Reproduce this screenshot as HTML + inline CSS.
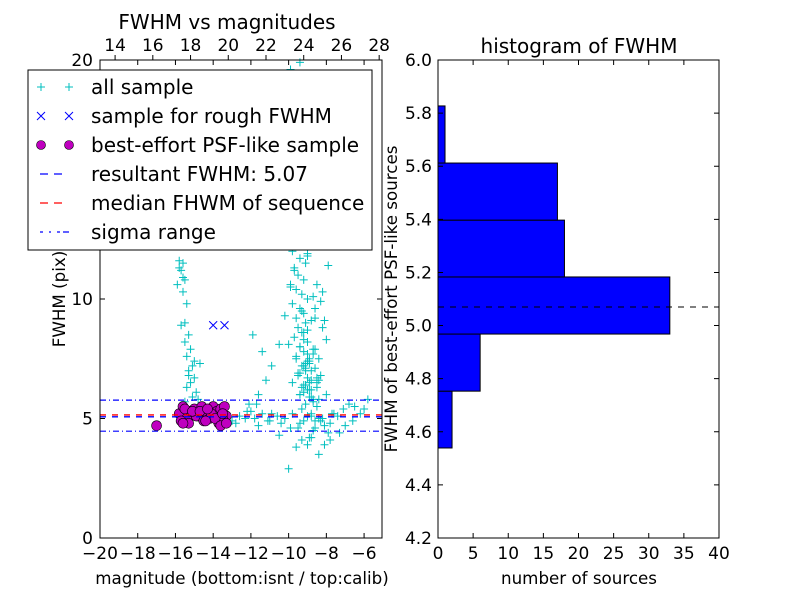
<!DOCTYPE html>
<html><head><meta charset="utf-8"><style>
body{margin:0;background:#fff;}
svg{display:block;font-family:"DejaVu Sans","Liberation Sans",sans-serif;}
</style></head><body>
<svg id="c" width="800" height="600" viewBox="0 0 800 600"></svg>
<script>
const allX=[-15.8,-15.6,-15.7,-15.5,-15.9,-15.6,-15.4,-15.5,-15.7,-15.3,-15.5,-15.2,-15.4,-15.1,-15.3,-15.0,-15.2,-15.4,-14.9,-15.1,-15.5,-14.8,-15.3,-15.0,-14.7,-15.8,-15.6,
-9.9,-9.4,-10.1,-9.2,-10.4,-9.7,-9.0,-10.6,-10.0,-9.5,-9.8,-9.3,-10.2,-9.6,-9.1,-9.9,-9.4,-10.8,-10.3,-9.7,-9.2,-10.0,-9.5,-8.9,-9.6,-9.3,-10.1,-9.8,-9.4,-9.1,-9.7,-9.5,-9.2,-9.9,-9.6,-9.3,-9.0,-9.8,-9.4,-9.2,-9.6,-9.1,-9.5,-9.3,-9.7,-9.0,-9.4,-9.2,-9.6,-8.9,-9.3,-9.1,-9.5,-8.8,-9.2,-9.0,-9.4,-8.7,-9.1,-9.3,-8.9,-8.6,-9.2,-9.0,-8.8,-9.4,-9.1,-8.7,-8.9,-8.5,-9.2,-8.8,-9.0,-8.6,-8.4,-8.9,-8.7,-9.1,-8.5,-8.8,-8.3,-8.6,-9.0,-8.4,-8.7,-9.9,-10.2,-10.5,-10.9,-11.2,-11.6,-12.1,-8.1,-7.8,-7.6,-10.5,-10.0,-11.4,-11.9,
-9.6,-9.4,-9.2,-9.0,-8.8,-8.6,-8.4,-8.2,-9.5,-9.3,-9.1,-8.9,-8.7,-8.5,-8.3,-9.7,-9.0,-8.6,-9.2,-8.8,-9.4,-8.4,-9.1,-8.7,-8.5,-9.3,-8.9,-8.3,-8.0,-7.8,-9.5,-8.1,-9.0,-8.6,-8.2,-7.9,-9.8,-8.8,-8.4,-7.7,
-13.0,-12.6,-12.2,-11.8,-11.4,-11.0,-10.6,-10.2,-9.8,-9.4,-9.0,-8.6,-8.2,-7.8,-7.4,-7.0,-6.6,-6.2,-12.8,-12.3,-11.6,-11.1,-10.4,-9.9,-9.2,-8.7,-8.1,-7.6,-7.1,-6.5,-6.0,-12.0,-10.9,-9.6,-8.4,-7.3,-9.0,-8.8,-10.0,-8.0,-8.5,-9.3,-10.5,-11.7,-6.8,-5.8,-7.9,-9.5,-8.9,-7.7,-7.3,-6.9];
const allY=[11.6,11.5,11.2,10.8,10.6,10.3,9.8,9.0,8.9,8.5,8.2,7.9,7.6,7.2,7.0,6.7,6.5,6.3,6.1,5.9,5.7,5.8,6.8,7.4,7.3,11.3,10.9,
19.6,19.9,18.9,18.5,18.2,17.8,17.5,16.9,16.7,16.4,16.1,15.9,15.6,15.3,15.1,14.8,14.5,14.3,14.0,13.8,13.6,13.3,13.1,12.9,12.6,12.4,12.2,12.0,11.7,11.5,11.3,11.0,10.8,10.6,10.4,10.2,10.0,9.8,9.6,9.4,9.2,9.0,8.8,8.6,8.4,8.2,8.0,7.8,7.6,7.4,7.2,7.0,6.8,6.6,6.4,6.2,6.0,5.8,5.6,5.4,7.5,7.9,8.3,8.7,9.1,6.9,7.3,7.7,6.5,6.3,6.1,5.9,6.7,7.1,7.5,6.2,5.7,6.4,5.5,5.2,4.9,4.6,11.9,15.4,13.2,10.5,9.3,8.1,7.2,6.6,6.0,5.6,3.9,4.1,14.9,12.7,
8.1,7.8,8.5,7.5,8.0,7.2,7.7,7.0,9.2,6.6,8.8,6.9,9.5,6.4,7.3,10.1,10.6,9.9,11.2,11.8,12.3,8.6,6.2,6.0,5.8,7.1,7.9,6.7,6.3,5.9,6.8,8.3,12.8,13.4,9.1,7.4,9.6,10.3,11.4,6.5,
5.1,5.0,5.2,4.9,5.1,5.3,5.0,5.2,4.9,5.1,5.0,5.2,4.8,5.1,4.9,5.0,4.8,5.1,4.7,4.9,5.2,4.8,5.0,4.7,4.9,4.8,4.6,4.9,4.5,4.7,5.2,5.4,5.5,5.4,5.3,5.2,3.8,3.5,4.4,3.9,4.2,2.9,6.0,6.5,4.1,4.3,5.6,5.6,5.8,4.4,4.6,4.2];
const roughX=[-14.0,-13.4];
const roughY=[8.9,8.9];
const psfX=[-17.0,-15.8,-15.6,-15.4,-15.2,-15.0,-14.8,-14.6,-14.4,-14.2,-14.0,-13.8,-13.6,-13.4,-13.3,-15.7,-15.3,-14.9,-14.5,-14.1,-13.7,-13.5,-15.5,-15.1,-14.7,-14.3,-13.9,-13.5,-15.6,-14.4,-13.6,-13.3];
const psfY=[4.7,5.2,5.5,5.0,5.3,5.4,5.1,5.5,5.2,5.0,5.5,5.3,5.4,5.5,5.1,4.9,4.8,5.1,4.9,5.2,4.8,5.0,5.4,5.3,5.3,5.4,5.0,5.2,4.8,4.9,4.7,4.8];
const binEdges=[4.539,4.753,4.968,5.183,5.397,5.612,5.827];
const counts=[2,6,33,18,17,1];
const lxTicks=[-20,-18,-16,-14,-12,-10,-8,-6];
const lyTicks=[0,5,10,20];
const topTicks=[14,16,18,20,22,24,26,28];
const rxTicks=[0,5,10,15,20,25,30,35,40];
const ryTicks=[4.2,4.4,4.6,4.8,5.0,5.2,5.4,5.6,5.8,6.0];
const fwhm=5.07, median=5.15, sigLo=4.47, sigHi=5.77;

const NS="http://www.w3.org/2000/svg", svg=document.getElementById('c');
function el(t,a,p){const e=document.createElementNS(NS,t);for(const k in a)e.setAttribute(k,a[k]);(p||svg).appendChild(e);return e;}
function txt(s,a,p){const e=el('text',a,p);e.textContent=s;return e;}
const L={x0:100,x1:382,y0:60,y1:538}, xmin=-20,xmax=-5.05,ymax=20;
const lx=v=>L.x0+(v-xmin)/(xmax-xmin)*(L.x1-L.x0);
const ly=v=>L.y1-v/ymax*(L.y1-L.y0);
const tx=v=>lx(v-33.2);
const R={x0:438,x1:719,y0:60,y1:538};
const rx=v=>R.x0+v/40*(R.x1-R.x0);
const ry=v=>R.y1-(v-4.2)/1.8*(R.y1-R.y0);

const gl=el('g',{});
allX.forEach((x,i)=>{const X=lx(x),Y=ly(allY[i]);const p=el('path',{d:`M${X-4} ${Y}H${X+4}M${X} ${Y-4}V${Y+4}`,stroke:'#00bfbf','stroke-width':1},gl);
});
roughX.forEach((x,i)=>{const X=lx(x),Y=ly(roughY[i]);const p=el('path',{d:`M${X-4} ${Y-4}L${X+4} ${Y+4}M${X-4} ${Y+4}L${X+4} ${Y-4}`,stroke:'#0000ff','stroke-width':1},gl);
});
psfX.forEach((x,i)=>{const c=el('circle',{cx:lx(x),cy:ly(psfY[i]),r:5,fill:'#bf00bf',stroke:'#000','stroke-width':0.6},gl);
});
let h=el('line',{x1:L.x0,x2:L.x1,y1:ly(fwhm),y2:ly(fwhm),stroke:'#00f','stroke-width':1.3,'stroke-dasharray':'6 6'},gl);

h=el('line',{x1:L.x0,x2:L.x1,y1:ly(median),y2:ly(median),stroke:'#f00','stroke-width':1.3,'stroke-dasharray':'6 6'},gl);

[sigLo,sigHi].forEach(v=>{const s=el('line',{x1:L.x0,x2:L.x1,y1:ly(v),y2:ly(v),stroke:'#00f','stroke-width':1.2,'stroke-dasharray':'6 3 1 3'},gl);
});
el('rect',{x:L.x0,y:L.y0,width:L.x1-L.x0,height:L.y1-L.y0,fill:'none',stroke:'#000'},gl);
lxTicks.forEach(v=>{const X=lx(v);el('path',{d:`M${X} ${L.y1}v-5M${X} ${L.y0}v5`,stroke:'#000'},gl);
const t=txt(v<0?'\u2212'+(-v):v,{x:X,y:L.y1+21,'text-anchor':'middle','font-size':17},gl);});
topTicks.forEach(v=>{const X=tx(v);el('path',{d:`M${X} ${L.y0}v-5`,stroke:'#000'},gl);
const t=txt(v,{x:X,y:L.y0-9,'text-anchor':'middle','font-size':17},gl);});
lyTicks.forEach(v=>{const Y=ly(v);el('path',{d:`M${L.x0} ${Y}h5M${L.x1} ${Y}h-5`,stroke:'#000'},gl);
const t=txt(v,{x:L.x0-7,y:Y+6,'text-anchor':'end','font-size':17},gl);});
let t=txt('FWHM vs magnitudes',{x:227,y:29,'text-anchor':'middle','font-size':20},gl);
t=txt('magnitude (bottom:isnt / top:calib)',{x:242,y:584,'text-anchor':'middle','font-size':16.7},gl);
t=txt('FWHM (pix)',{x:65,y:299,'text-anchor':'middle','font-size':16.7,transform:'rotate(-90 65 299)'},gl);

const lg=el('g',{});
el('rect',{x:28,y:70,width:344,height:180,fill:'#fff',stroke:'#000','stroke-width':1},lg);
const labs=['all sample','sample for rough FWHM','best-effort PSF-like sample','resultant FWHM: 5.07','median FHWM of sequence','sigma range'];
labs.forEach((s,i)=>{const Y=87+i*29;
 const g=el('g',{},lg);
 if(i==0)[41,69].forEach(X=>el('path',{d:`M${X-4} ${Y}H${X+4}M${X} ${Y-4}V${Y+4}`,stroke:'#00bfbf'},g));
 if(i==1)[41,69].forEach(X=>el('path',{d:`M${X-4} ${Y-4}L${X+4} ${Y+4}M${X-4} ${Y+4}L${X+4} ${Y-4}`,stroke:'#00f'},g));
 if(i==2)[41,69].forEach(X=>el('circle',{cx:X,cy:Y,r:4.5,fill:'#bf00bf',stroke:'#000','stroke-width':0.6},g));
 if(i==3)el('line',{x1:40,x2:70,y1:Y,y2:Y,stroke:'#00f','stroke-width':1.3,'stroke-dasharray':'8 6 8'},g);
 if(i==4)el('line',{x1:40,x2:70,y1:Y,y2:Y,stroke:'#f00','stroke-width':1.3,'stroke-dasharray':'8 6 8'},g);
 if(i==5)el('line',{x1:40,x2:70,y1:Y,y2:Y,stroke:'#00f','stroke-width':1.3,'stroke-dasharray':'3 6 2 6 3'},g);
 txt(s,{x:91,y:Y+7,'font-size':20},g);});

const gr=el('g',{});
counts.forEach((c,i)=>{const y1=ry(binEdges[i+1]),y2=ry(binEdges[i]);
 const b=el('rect',{x:rx(0),y:y1,width:rx(c)-rx(0),height:y2-y1,fill:'#0000ff',stroke:'#000','stroke-width':1},gr);
 });
h=el('line',{x1:R.x0,x2:R.x1,y1:ry(fwhm),y2:ry(fwhm),stroke:'#000','stroke-dasharray':'6 6'},gr);

el('rect',{x:R.x0,y:R.y0,width:R.x1-R.x0,height:R.y1-R.y0,fill:'none',stroke:'#000'},gr);
rxTicks.forEach(v=>{const X=rx(v);el('path',{d:`M${X} ${R.y1}v-5M${X} ${R.y0}v5`,stroke:'#000'},gr);
 const t=txt(v,{x:X,y:R.y1+21,'text-anchor':'middle','font-size':17},gr);});
ryTicks.forEach(v=>{const Y=ry(v);el('path',{d:`M${R.x0} ${Y}h5M${R.x1} ${Y}h-5`,stroke:'#000'},gr);
 const t=txt(v.toFixed(1),{x:R.x0-6,y:Y+6,'text-anchor':'end','font-size':17},gr);});
t=txt('histogram of FWHM',{x:579,y:53,'text-anchor':'middle','font-size':20},gr);
t=txt('number of sources',{x:579,y:584,'text-anchor':'middle','font-size':16.7},gr);
t=txt('FWHM of best-effort PSF-like sources',{x:397,y:299,'text-anchor':'middle','font-size':16.7,transform:'rotate(-90 397 299)'},gr);
</script>
</body></html>
